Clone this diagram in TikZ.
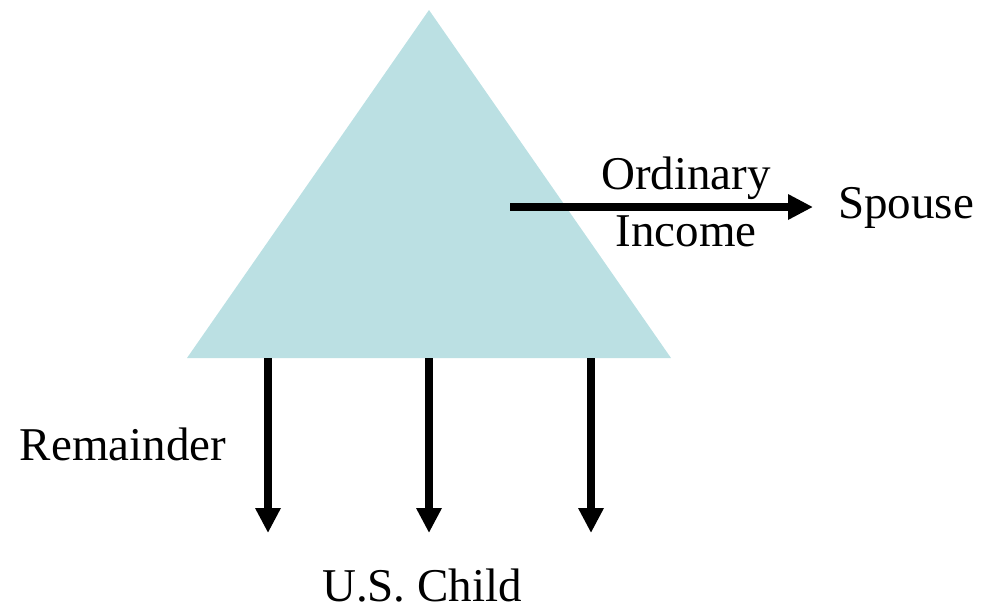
\documentclass[tikz,border=0pt]{standalone}
\usepackage{fontspec}
\setmainfont{Liberation Serif}
\usepackage{xcolor}
\usepackage{tikz}
\usetikzlibrary{arrows.meta, positioning}
\definecolor{trustblue}{RGB}{187,224,227}

\begin{document}
\begin{tikzpicture}[x=1pt, y=-1pt, >={Triangle[length=25pt, width=24pt]}, line width=7.5pt,
    lbl/.style={inner sep=0pt, anchor=base, font=\fontsize{47}{56}\selectfont}]
    % Page frame
    \useasboundingbox (0,0) rectangle (981,613);
    
    % The trust triangle
    \fill[trustblue] (429,10) coordinate (top) -- (671,358) coordinate (br)
        -- (187,358) coordinate (bl) -- cycle;
    
    % Ordinary income paid out to the spouse
    \coordinate (oi) at (510,207);
    \coordinate (oiend) at (813,207);
    \draw[->] (oi) -- (oiend);
    \node[lbl] (ordinary) at (686,189) {Ordinary};
    \node[lbl] (income) at (686,246) {Income};
    \node[lbl] (spouse) at (906,218) {Spouse};
    
    % Remainder going down to the child
    \foreach \i/\xx in {1/268, 2/429, 3/591} {
        \coordinate (d\i) at (\xx,358);
        \coordinate (e\i) at (\xx,533);
        \draw[->] (d\i) -- (e\i);
    }
    \node[lbl] (remainder) at (123,460) {Remainder};
    \node[lbl] (child) at (422,601) {U.S. Child};
\end{tikzpicture}
\end{document}
